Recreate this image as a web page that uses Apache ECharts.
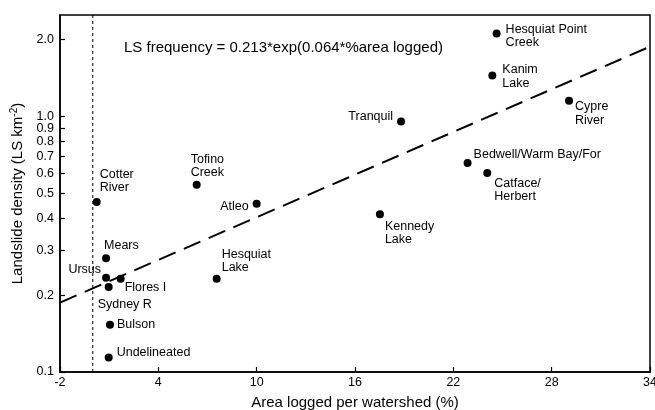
<!DOCTYPE html>
<html>
<head>
<meta charset="utf-8">
<script src="https://cdn.jsdelivr.net/npm/echarts@6/dist/echarts.min.js"></script>
<style>
html,body{margin:0;padding:0;background:#fff;}
#chart{width:655px;height:410px;}
</style>
</head>
<body>
<div id="chart"></div>
<script>
// ---- data ----
const watersheds = ['Cotter\nRiver','Tofino\nCreek','Atleo','Mears','Ursus','Flores I','Sydney R','Bulson','Undelineated','Hesquiat\nLake','Kennedy\nLake','Tranquil','Hesquiat Point\nCreek','Kanim\nLake','Cypre\nRiver','Bedwell/Warm Bay/For','Catface/\nHerbert'];
const areaLogged = [0.24, 6.34, 10.0, 0.81, 0.81, 1.70, 0.97, 1.05, 0.97, 7.56, 17.52, 18.81, 24.64, 24.38, 29.06, 22.87, 24.07];
const lsDensity  = [0.463, 0.541, 0.456, 0.279, 0.234, 0.232, 0.215, 0.153, 0.114, 0.232, 0.415, 0.958, 2.116, 1.448, 1.155, 0.658, 0.601];
const fitX = [-2, 34];
const fitY = [0.187, 1.88];
const thresholdX = 0;
const yExtent = [0.1, 2.5];
const xTicks = [-2, 4, 10, 16, 22, 28, 34];
const yTicks = [0.1, 0.2, 0.3, 0.4, 0.5, 0.6, 0.7, 0.8, 0.9, 1.0, 2.0];
const equationText = 'LS frequency = 0.213*exp(0.064*%area logged)';

// ---- label layout (offset from dot centre, alignment) ----
const labelLayout = [
  [3, -21, 'left'], [-6, -18.5, 'left'], [-8, 3, 'right'], [-2, -13, 'left'],
  [-5, -8, 'right'], [4, 9, 'left'], [-11, 17, 'left'], [7, 0, 'left'],
  [8, -5, 'left'], [5, -17.5, 'left'], [5, 19, 'left'], [-8, -5, 'right'],
  [9, 2.5, 'left'], [10, 1, 'left'], [6, 13, 'left'], [6, -8, 'left'], [7, 17, 'left']
];

const FONT = 'Liberation Sans, Arial, Helvetica, sans-serif';

const pts = watersheds.map((n, i) => ({
  value: [areaLogged[i], lsDensity[i]],
  name: n,
  label: {
    show: true,
    formatter: n,
    position: 'inside',
    offset: [labelLayout[i][0], labelLayout[i][1]],
    align: labelLayout[i][2],
    verticalAlign: 'middle',
    color: '#000',
    fontFamily: FONT,
    fontSize: 12.5,
    lineHeight: 13.5
  }
}));

const chart = echarts.init(document.getElementById('chart'), null, {renderer: 'canvas'});
chart.setOption({
  animation: false,
  backgroundColor: '#fff',
  grid: {left: 60, right: 5, top: 15, bottom: 38, containLabel: false, outerBoundsMode: 'none',
    show: true, borderColor: '#000', borderWidth: 1.5, backgroundColor: 'transparent'},
  xAxis: {
    type: 'value', min: -2, max: 34,
    axisLine: {show: true, onZero: false, lineStyle: {color: '#000', width: 1.5}},
    axisTick: {show: true, inside: true, length: 5, lineStyle: {color: '#000', width: 1.2}, customValues: xTicks},
    axisLabel: {color: '#000', fontFamily: FONT, fontSize: 12.5, margin: 4, customValues: xTicks},
    splitLine: {show: false},
    name: 'Area logged per watershed (%)',
    nameLocation: 'middle', nameGap: 23,
    nameTextStyle: {color: '#000', fontFamily: FONT, fontSize: 15}
  },
  yAxis: {
    type: 'log', logBase: 10, min: yExtent[0], max: yExtent[1],
    axisLine: {show: true, onZero: false, lineStyle: {color: '#000', width: 1.5}},
    axisTick: {show: true, inside: true, length: 5, lineStyle: {color: '#000', width: 1.2}, customValues: yTicks},
    axisLabel: {color: '#000', fontFamily: FONT, fontSize: 12.5, margin: 6, customValues: yTicks,
      formatter: v => Number(v).toFixed(1)},
    splitLine: {show: false},
    minorTick: {show: false},
    name: 'Landslide density (LS km{sup|-2})',
    nameLocation: 'middle', nameGap: 32,
    nameTextStyle: {color: '#000', fontFamily: FONT, fontSize: 15,
      rich: {sup: {fontSize: 10, verticalAlign: 'top', fontFamily: FONT, color: '#000', padding: [0,0,8,0]}}}
  },
  graphic: [{
    type: 'text', left: 124, top: 40,
    style: {text: equationText, fill: '#000', font: '15px ' + FONT}
  }],
  series: [
    {
      type: 'line', data: fitX.map((x, i) => [x, fitY[i]]),
      symbol: 'none', silent: true,
      lineStyle: {color: '#000', width: 2, type: [18, 9]}
    },
    {
      type: 'line', data: yExtent.map(y => [thresholdX, y]),
      symbol: 'none', silent: true,
      lineStyle: {color: '#000', width: 1, type: [3, 3]}
    },
    {
      type: 'scatter', data: pts, symbol: 'circle', symbolSize: 8,
      itemStyle: {color: '#000', opacity: 1}, z: 5
    }
  ]
});
</script>
</body>
</html>
